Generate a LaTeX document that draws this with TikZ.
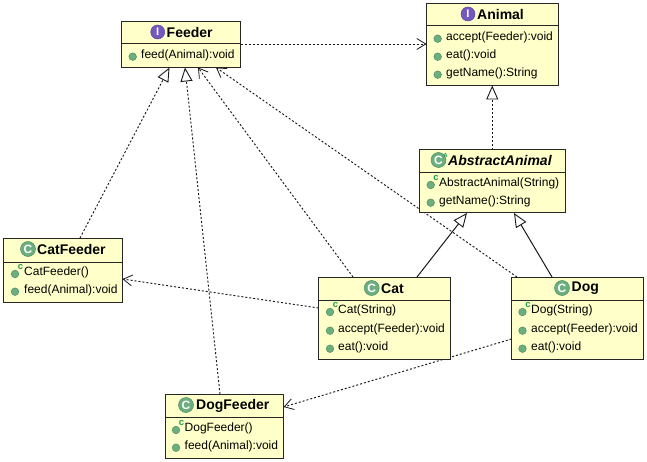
\documentclass[tikz,border=0pt]{standalone}
\usepackage{fontspec}
\setmainfont{Liberation Sans}
\usetikzlibrary{arrows.meta,backgrounds,shadows}
\definecolor{boxfill}{HTML}{FFFFC9}
\definecolor{spotgreen}{HTML}{6BAF80}
\definecolor{spotedge}{HTML}{4F8F63}
\definecolor{spotpurple}{HTML}{7557C0}
\definecolor{ctorgreen}{HTML}{1E9E4A}
\tikzset{
  umlbox/.style={draw=black!85,line width=1pt,fill=boxfill,anchor=north west,inner sep=0pt,outer sep=0pt,
    general shadow={fill=black,opacity=.22,shift={(0.8pt,-0.8pt)}}},
  divider/.style={draw=black!85,line width=1pt},
  titlefont/.style={font=\fontsize{14}{14}\selectfont\bfseries,anchor=west,inner sep=0pt},
  abstractfont/.style={font=\fontsize{14}{14}\selectfont\bfseries\itshape,anchor=west,inner sep=0pt},
  memberfont/.style={font=\fontsize{12}{12}\selectfont,anchor=west,inner sep=0pt,text=black},
  dot/.style={circle,fill=spotgreen,draw=spotedge,line width=0.5pt,minimum size=7.6pt,inner sep=0pt},
  classspot/.style={circle,fill=spotgreen,draw=spotedge,line width=0.5pt,minimum size=15pt,inner sep=0pt,text=white,
    font=\fontsize{12}{12}\selectfont\bfseries},
  ifacespot/.style={circle,fill=spotpurple,draw=spotpurple!80!black,line width=0.5pt,minimum size=14pt,inner sep=0pt,text=white,
    font=\fontsize{11}{11}\selectfont\bfseries},
  ctormark/.style={text=ctorgreen,inner sep=0pt,font=\fontsize{9.5}{9.5}\selectfont\bfseries},
  dep/.style={draw=black!90,line width=0.95pt,dash pattern=on 2pt off 2pt,-{Straight Barb[length=9pt,width=11pt,line width=0.8pt]}},
  realize/.style={draw=black!90,line width=0.95pt,dash pattern=on 2pt off 2pt,-{Triangle[open,length=14pt,width=12pt,fill=white,line width=0.9pt]}},
  inherit/.style={draw=black!90,line width=1pt,-{Triangle[open,length=14pt,width=12pt,fill=white,line width=0.9pt]}},
}
% name, x1, y1, x2, y2, divider y
\newcommand{\umlclass}[6]{%
  \node[umlbox,minimum width={(#4-#2)*1pt},minimum height={(#5-#3)*1pt}] (#1) at (#2,#3) {};
  \draw[divider] (#2,#6) -- (#4,#6);
}
% name, dot x, text x, centre y
\newcommand{\method}[5]{%
  \node[dot] (#1d) at (#2,#4+1.7) {};
  \node[memberfont] (#1) at (#3,#4) {#5};
}
\newcommand{\ctor}[5]{%
  \node[dot] (#1d) at (#2,#4+2) {};
  \node[ctormark] (#1c) at (#2+5.4,#4-4.6) {c};
  \node[memberfont] (#1) at (#3,#4) {#5};
}
\begin{document}
\begin{tikzpicture}[x=1pt,y=-1pt]
\useasboundingbox (0,0) rectangle (647,462);

\umlclass{feeder}{121.5}{21.5}{240.5}{67.5}{44}
\node[ifacespot] (feederS) at (157.7,32) {I};
\node[titlefont] (feederT) at (166.5,32) {Feeder};
\method{feederA}{132.7}{141}{55}{feed(Animal):void}

\umlclass{animal}{426.5}{3.5}{558}{85.5}{26}
\node[ifacespot] (animalS) at (468,14) {I};
\node[titlefont] (animalT) at (477,14.5) {Animal};
\method{animalA}{437.7}{446}{37}{accept(Feeder):void}
\method{animalB}{437.7}{446}{55}{eat():void}
\method{animalC}{437.7}{446}{73}{getName():String}

\umlclass{abstract}{419}{150}{565.5}{213}{173}
\node[classspot] (abstractS) at (438.5,160) {C};
\node[ctormark,font=\fontsize{6}{6}\selectfont\bfseries] (abstractM) at (445.5,155.5) {A};
\node[abstractfont] (abstractT) at (448,160.5) {AbstractAnimal};
\ctor{abstractA}{430.7}{439}{183}{AbstractAnimal(String)}
\method{abstractB}{430.7}{439}{201}{getName():String}

\umlclass{catfeeder}{3.5}{238}{122.5}{302}{262}
\node[classspot] (catfeederS) at (28,249) {C};
\node[titlefont] (catfeederT) at (37,249.5) {CatFeeder};
\ctor{catfeederA}{15}{24}{272}{CatFeeder()}
\method{catfeederB}{15}{24}{290}{feed(Animal):void}

\umlclass{cat}{318.5}{277}{450.5}{359}{300}
\node[classspot] (catS) at (371.7,288) {C};
\node[titlefont] (catT) at (381,288.5) {Cat};
\ctor{catA}{330}{338}{310}{Cat(String)}
\method{catB}{330}{338}{329}{accept(Feeder):void}
\method{catC}{330}{338}{347}{eat():void}

\umlclass{dog}{511.5}{277}{643}{359}{300}
\node[classspot] (dogS) at (562,288) {C};
\node[titlefont] (dogT) at (571.5,288.5) {Dog};
\ctor{dogA}{522.5}{531}{310}{Dog(String)}
\method{dogB}{522.5}{531}{329}{accept(Feeder):void}
\method{dogC}{522.5}{531}{347}{eat():void}

\umlclass{dogfeeder}{165}{394}{283.5}{458}{417}
\node[classspot] (dogfeederS) at (186,405) {C};
\node[titlefont] (dogfeederT) at (196,405.5) {DogFeeder};
\ctor{dogfeederA}{176}{184.5}{428}{DogFeeder()}
\method{dogfeederB}{176}{184.5}{446}{feed(Animal):void}

\begin{scope}[on background layer]
\fill[white] (0,0) rectangle (647,462);
\draw[dep] ([yshift=0.5pt]feeder.east) -- ([yshift=0.5pt]feeder.east -| animal.west);
\draw[realize] ([xshift=76.5pt]catfeeder.north west) -- ([xshift=48pt]feeder.south west);
\draw[realize] ([xshift=55pt]dogfeeder.north west) -- ([xshift=63.5pt]feeder.south west);
\draw[dep] ([xshift=34.5pt]cat.north west) -- ([xshift=76.5pt]feeder.south west);
\draw[dep] ([xshift=5.5pt]dog.north west) -- ([xshift=94.5pt]feeder.south west);
\draw[inherit] ([xshift=98.5pt]cat.north west) -- ([xshift=48pt]abstract.south west);
\draw[inherit] ([xshift=40.5pt]dog.north west) -- ([xshift=95pt]abstract.south west);
\draw[realize] (abstract.north) -- (animal.south);
\draw[dep] ([yshift=10pt]cat.west) -- ([yshift=-9pt]catfeeder.east);
\draw[dep] ([yshift=-21pt]dog.west) -- ([yshift=19pt]dogfeeder.east);
\end{scope}
\end{tikzpicture}
\end{document}
